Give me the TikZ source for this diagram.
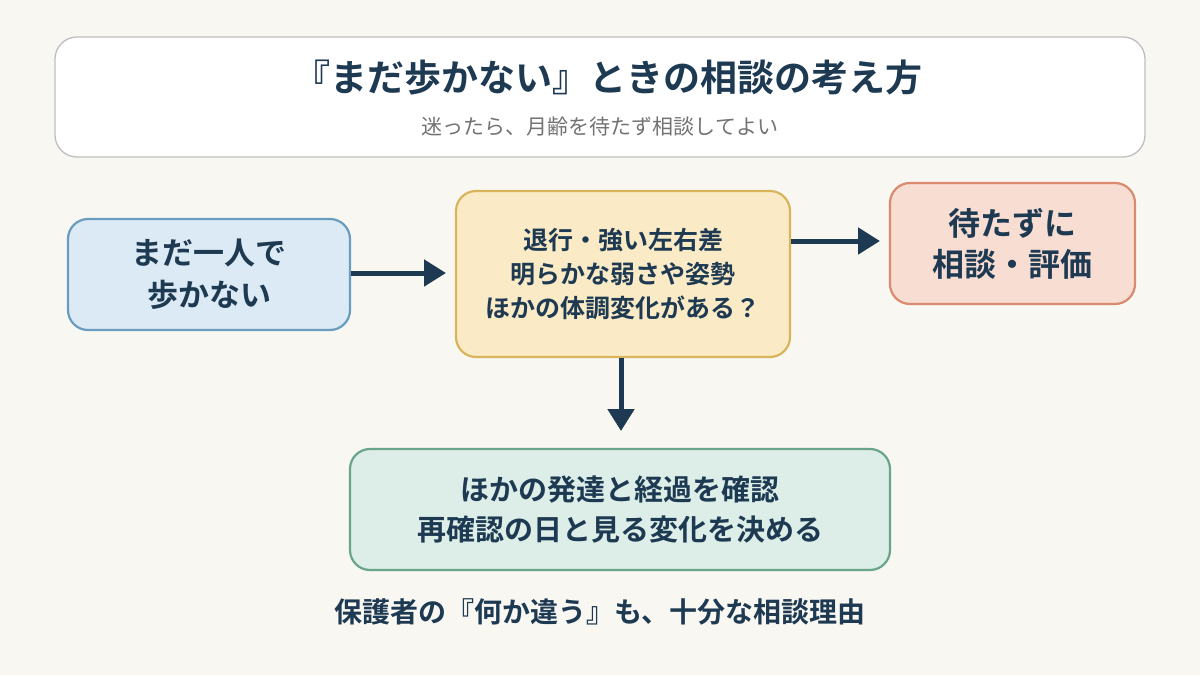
\documentclass[tikz,border=0pt]{standalone}
\usepackage{fontspec}
\setmainfont{Noto Sans CJK JP}
\newfontfamily\jpb{Noto Sans CJK JP Bold}
\usetikzlibrary{arrows.meta}
\definecolor{bg}{HTML}{F8F7F2}
\definecolor{ink}{HTML}{1E3A52}
\definecolor{bluef}{HTML}{DCEAF5}\definecolor{blued}{HTML}{6A9CC0}
\definecolor{yelf}{HTML}{FAEBC6}\definecolor{yeld}{HTML}{D9B45A}
\definecolor{redf}{HTML}{F8DDD3}\definecolor{redd}{HTML}{D98A6F}
\definecolor{grnf}{HTML}{DCEEE7}\definecolor{grnd}{HTML}{6AA48A}
\tikzset{
 box/.style={draw, line width=2.2pt, rounded corners=20pt, inner sep=0pt},
 lbl/.style={text=ink, align=center, font=\jpb, inner sep=0pt},
 arr/.style={draw=ink, line width=5pt, -{Triangle[length=22pt,width=26pt]}}
}
\begin{document}
\begin{tikzpicture}[x=1pt,y=-1pt]
\fill[bg] (0,0) rectangle (1200,675);
\useasboundingbox (0,0) rectangle (1200,675);
\draw[fill=white, draw=black!25, line width=1.3pt, rounded corners=22pt] (55,37) rectangle (1145,157);
\node[lbl, font=\jpb\fontsize{37}{44}\selectfont] (title) at (608,78) {『まだ歩かない』ときの相談の考え方};
\node[text=black!55, inner sep=0pt, font=\fontsize{21}{24}\selectfont] (sub) at (600,127) {迷ったら、月齢を待たず相談してよい};
\draw[box, fill=bluef, draw=blued] (68,219) rectangle (350,330);
\node[lbl, font=\jpb\fontsize{31}{42}\selectfont] (b) at (209,274.5) {まだ一人で\\歩かない};
\draw[box, fill=yelf, draw=yeld] (456,191) rectangle (790,357);
\node[lbl, font=\jpb\fontsize{25}{34}\selectfont] (y) at (623,274) {退行・強い左右差\\明らかな弱さや姿勢\\ほかの体調変化がある？};
\draw[box, fill=redf, draw=redd] (890,183) rectangle (1135,304);
\node[lbl, font=\jpb\fontsize{32}{41}\selectfont] (r) at (1012,243.5) {待たずに\\相談・評価};
\draw[box, fill=grnf, draw=grnd] (350,449) rectangle (890,570);
\node[lbl, font=\jpb\fontsize{29}{40}\selectfont] (g) at (620,509.5) {ほかの発達と経過を確認\\再確認の日と見る変化を決める};
\node[lbl, font=\jpb\fontsize{28}{32}\selectfont] (foot) at (600,612) {保護者の『何か違う』も、十分な相談理由};
\coordinate (a1s) at (351,273); \coordinate (a1e) at (446,273);
\coordinate (a2s) at (791,241); \coordinate (a2e) at (880,241);
\coordinate (a3s) at (621,358); \coordinate (a3e) at (621,431);
\draw[arr] (a1s) -- (a1e);
\draw[arr] (a2s) -- (a2e);
\draw[arr] (a3s) -- (a3e);
\end{tikzpicture}
\end{document}
